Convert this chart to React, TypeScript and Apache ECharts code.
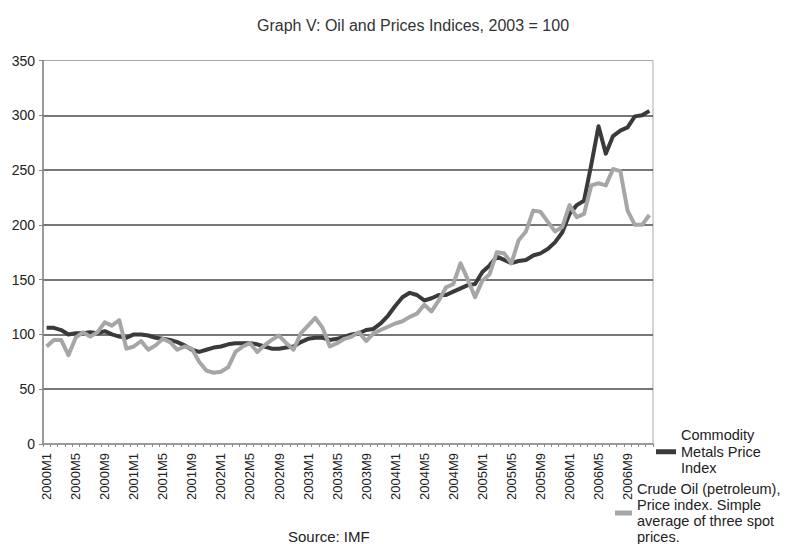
import React, { useEffect, useRef } from "react";
import * as echarts from "echarts";

const TITLE = "Graph V: Oil and Prices Indices, 2003 = 100";
const SOURCE = "Source: IMF";
const METALS_NAME = "Commodity\nMetals Price\nIndex";
const OIL_NAME = "Crude Oil (petroleum),\nPrice index. Simple\naverage of three spot\nprices.";

const years = [2000, 2001, 2002, 2003, 2004, 2005, 2006];
const months = [1, 2, 3, 4, 5, 6, 7, 8, 9, 10, 11, 12];
const categories: string[] = [];
years.forEach((y) => months.forEach((m) => categories.push(`${y}M${m}`)));

const metals = [
  106, 106, 104, 100, 101, 101, 102, 101, 103, 100,
  98, 97, 100, 100, 99, 97, 96, 95, 93, 90,
  86, 84, 86, 88, 89, 91, 92, 92, 92, 91,
  89, 87, 87, 88, 89, 93, 96, 97, 97, 95,
  96, 98, 100, 101, 104, 105, 110, 117, 126, 134,
  138, 136, 131, 133, 136, 136, 139, 142, 145, 146,
  157, 163, 171, 168, 165, 167, 168, 172, 174, 178,
  184, 193, 210, 218, 222, 255, 290, 265, 281, 286,
  289, 299, 300, 304,
];

const oil = [
  89, 95, 95, 81, 97, 102, 98, 102, 111, 108,
  113, 87, 89, 94, 86, 90, 96, 93, 86, 89,
  87, 75, 67, 65, 66, 70, 84, 89, 92, 84,
  90, 95, 99, 92, 86, 101, 108, 115, 106, 89,
  92, 96, 98, 102, 94, 101, 104, 107, 110, 112,
  116, 119, 127, 121, 131, 143, 146, 165, 150, 134,
  149, 155, 175, 174, 165, 186, 194, 213, 212, 203,
  194, 198, 218, 207, 210, 236, 238, 236, 251, 249,
  213, 200, 200, 209,
];

const FONT = "'Liberation Sans', Arial, sans-serif";

export default function App() {
  const ref = useRef<HTMLDivElement>(null);
  useEffect(() => {
    if (!ref.current) return;
    const chart = echarts.init(ref.current, undefined, { renderer: "svg" });
    chart.setOption({
      animation: false,
      backgroundColor: "#fff",
      textStyle: { fontFamily: FONT },
      title: [
        {
          text: TITLE,
          left: 252,
          top: 12,
          textStyle: { fontSize: 16, fontWeight: "normal", color: "#333", fontFamily: FONT },
        },
        {
          text: SOURCE,
          left: 283,
          top: 524,
          textStyle: { fontSize: 15, fontWeight: "normal", color: "#222", fontFamily: FONT },
        },
      ],
      grid: {
        left: 43,
        right: 135,
        top: 60.5,
        bottom: 100,
        show: true,
        borderColor: "#aaa",
        borderWidth: 1,
      },
      legend: [
        {
          data: [{ name: METALS_NAME }],
          left: 651,
          top: 422,
          icon: "rect",
          itemWidth: 20,
          itemHeight: 5,
          selectedMode: false,
          textStyle: { fontSize: 14.5, lineHeight: 16.5, color: "#222", fontFamily: FONT },
        },
        {
          data: [{ name: OIL_NAME }],
          left: 610,
          top: 476,
          icon: "rect",
          itemWidth: 17,
          itemHeight: 5,
          selectedMode: false,
          textStyle: { fontSize: 14.5, lineHeight: 16, color: "#222", fontFamily: FONT },
        },
      ],
      xAxis: {
        type: "category",
        data: categories,
        boundaryGap: true,
        axisLine: { show: true, lineStyle: { color: "#888", width: 1.5 } },
        axisTick: { show: true, interval: 0, length: 3, lineStyle: { color: "#888" } },
        axisLabel: {
          interval: 3,
          rotate: 90,
          fontSize: 13,
          color: "#222",
          margin: 9,
          fontFamily: FONT,
        },
        splitLine: { show: false },
      },
      yAxis: {
        type: "value",
        min: 0,
        max: 350,
        interval: 50,
        axisLine: { show: true, lineStyle: { color: "#888", width: 1.5 } },
        axisTick: { show: true, length: 4, lineStyle: { color: "#888" } },
        axisLabel: { fontSize: 14, color: "#222", margin: 8, fontFamily: FONT },
        splitLine: {
          show: true,
          showMinLine: false,
          showMaxLine: false,
          lineStyle: { color: "#4a4a4a", width: 1.6 },
        },
      },
      series: [
        {
          name: METALS_NAME,
          type: "line",
          data: metals,
          showSymbol: false,
          symbol: "none",
          itemStyle: { color: "#3a3a3a" },
          lineStyle: { color: "#3a3a3a", width: 4, join: "round" },
        },
        {
          name: OIL_NAME,
          type: "line",
          data: oil,
          showSymbol: false,
          symbol: "none",
          itemStyle: { color: "#a6a6a6" },
          lineStyle: { color: "#a6a6a6", width: 4, join: "round" },
        },
      ],
    });
    return () => chart.dispose();
  }, []);
  return (
    <div
      ref={ref}
      style={{ position: "fixed", left: 0, top: 0, width: 788, height: 544, background: "#fff" }}
    />
  );
}
